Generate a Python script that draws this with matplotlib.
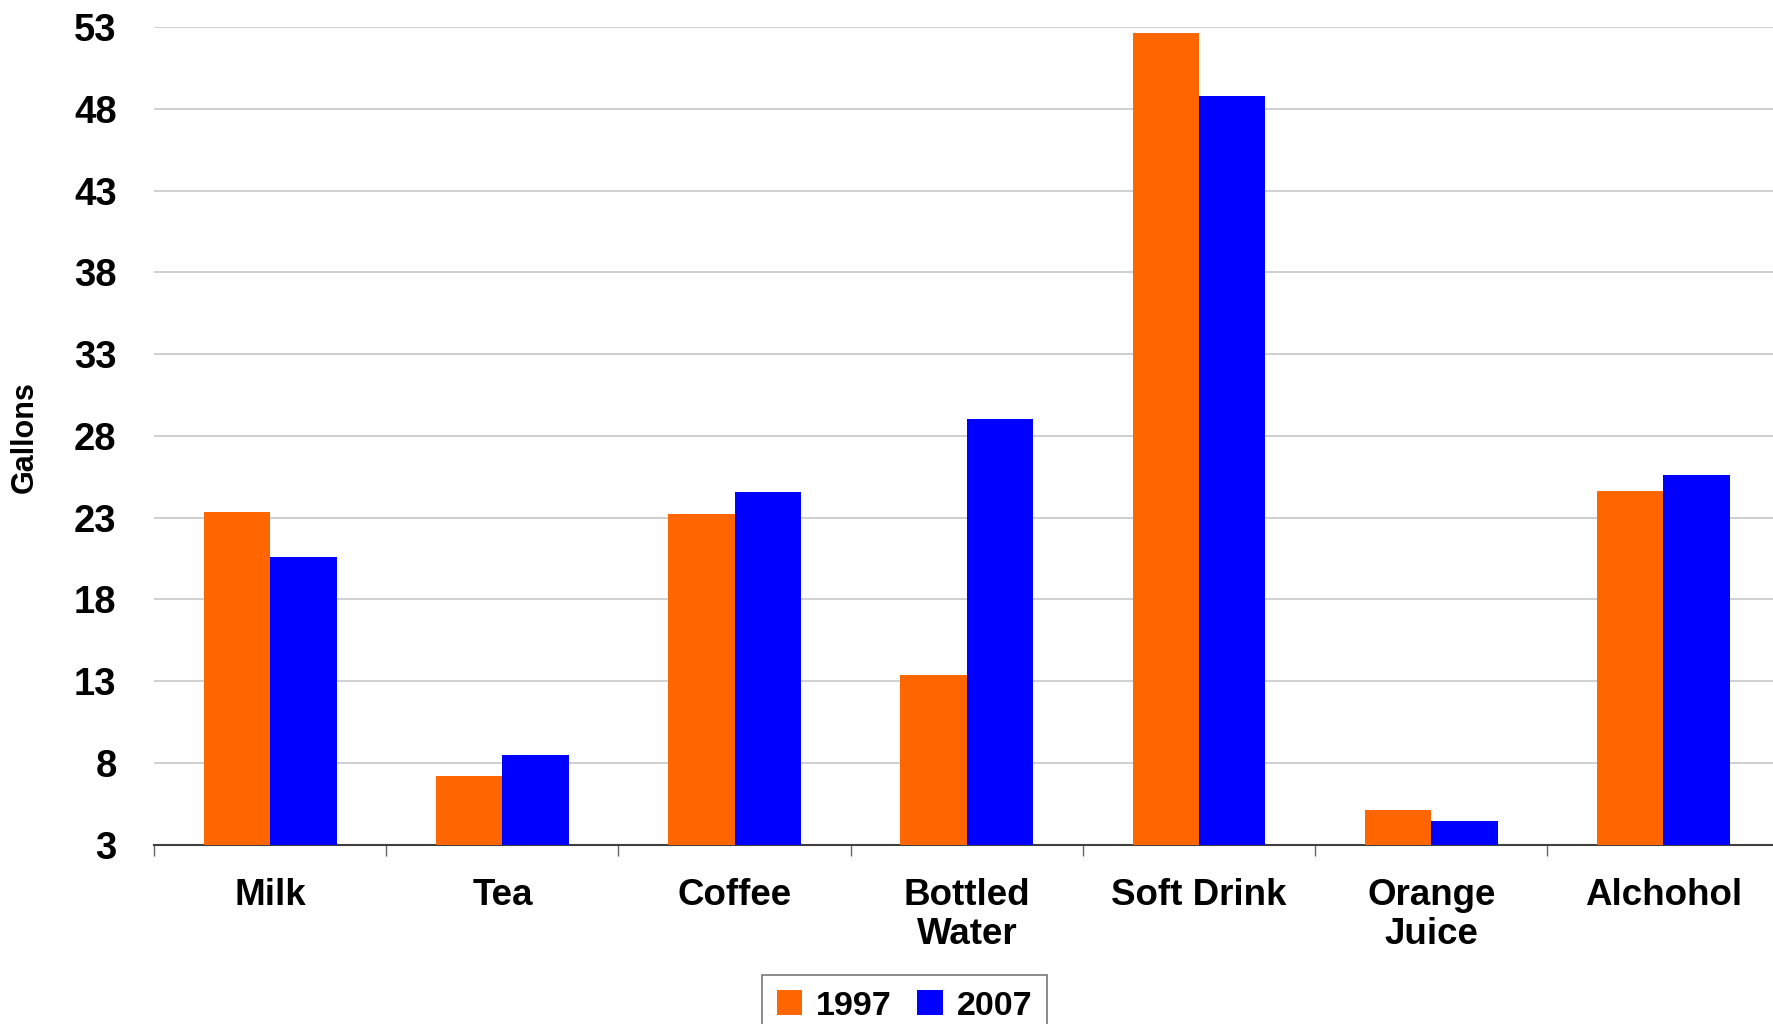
import numpy as np
from matplotlib import pyplot as plt

drinks = ['Milk', 'Tea', 'Coffee', 'Bottled\nWater', 'Soft Drink', 'Orange\nJuice', 'Alchohol']
gal_1997 = [23.37, 7.22, 23.24, 13.37, 52.63, 5.10, 24.65]
gal_2007 = [20.61, 8.47, 24.59, 29.04, 48.78, 4.43, 25.63]
yticks = [3, 8, 13, 18, 23, 28, 33, 38, 43, 48, 53]

plt.rcParams['font.family'] = ['Liberation Sans', 'DejaVu Sans']
plt.rcParams['font.weight'] = 'bold'

fig = plt.figure(figsize=(17.73, 10.24), dpi=100)
ax = fig.add_axes([0.0869, 0.1752, 0.9168, 0.7984])

x = np.arange(len(drinks))
w = 1 / 3.5
ax.bar(x - w/2, gal_1997, w, bottom=0, color='#FF6600', label='1997', zorder=3)
ax.bar(x + w/2, gal_2007, w, bottom=0, color='#0000FF', label='2007', zorder=3)

ax.set_ylim(3, 53)
ax.set_xlim(-0.5, len(drinks) - 0.5)
ax.set_yticks(yticks)
ax.yaxis.grid(True, color='#cccccc', lw=1.3, zorder=0)
ax.tick_params(axis='y', length=0, pad=27, labelsize=27.5)

ax.set_xticks(x)
ax.set_xticklabels(drinks, fontsize=26.5, linespacing=1.15)
ax.tick_params(axis='x', which='major', length=0, pad=24)
ax.set_xticks(np.arange(-0.5, len(drinks) - 0.5, 1), minor=True)
ax.tick_params(axis='x', which='minor', length=8, width=1, color='#666666')

for s in ['left', 'right', 'top']:
    ax.spines[s].set_visible(False)
ax.spines['bottom'].set_color('#404040')
ax.spines['bottom'].set_linewidth(1.5)

fig.text(0.014, 1 - 437/1024, 'Gallons', rotation=90, fontsize=22,
         ha='center', va='center')

leg = fig.legend(loc='upper center', bbox_to_anchor=(904.5/1773, 1 - 975/1024),
                 ncol=2, fontsize=24.5, frameon=True, fancybox=False,
                 borderaxespad=0, handlelength=0.75, handleheight=0.75,
                 handletextpad=0.4, columnspacing=0.75, borderpad=0.45)
leg.get_frame().set_edgecolor('#555555')
leg.get_frame().set_linewidth(1.2)

fig.savefig('out.png', dpi=100)
